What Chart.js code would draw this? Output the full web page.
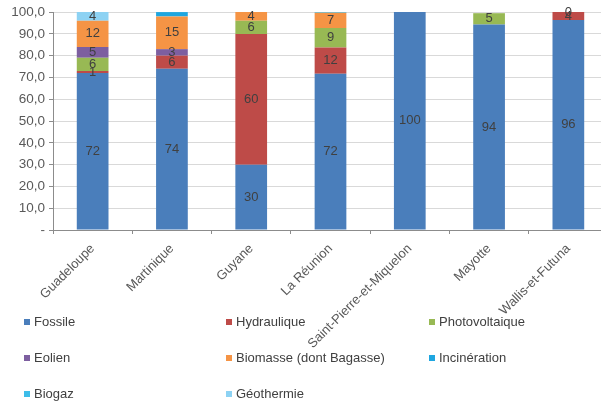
<!DOCTYPE html>
<html>
<head>
<meta charset="utf-8">
<script src="https://cdn.jsdelivr.net/npm/chart.js@4"></script>
<style>
  html, body { margin: 0; padding: 0; background: #fff; overflow: hidden; }
  canvas { display: block; }
</style>
</head>
<body>
<canvas id="chart" width="612" height="405"></canvas>
<script>
const territories = ["Guadeloupe", "Martinique", "Guyane", "La Réunion", "Saint-Pierre-et-Miquelon", "Mayotte", "Wallis-et-Futuna"];

// shares of electricity production (%), null = empty cell
const fossile = [72, 74, 30, 71.7, 100, 94.3, 96.4];
const hydraulique = [1, 6, 60, 12, null, null, 3.6];
const photovoltaique = [6, null, 6, 9, null, 5.2, 0];
const eolien = [5, 3, null, null, null, null, null];
const biomasse = [12, 15, 4, 7, null, null, null];
const incineration = [null, 2, null, null, null, null, null];
const biogaz = [null, null, null, 0.3, null, null, null];
const geothermie = [4, null, null, null, null, null, null];

const yTicks = ["-", "10,0", "20,0", "30,0", "40,0", "50,0", "60,0", "70,0", "80,0", "90,0", "100,0"];

const series = [
  { label: "Fossile", data: fossile, color: "#4a7ebb", showValues: true },
  { label: "Hydraulique", data: hydraulique, color: "#be4b48", showValues: true },
  { label: "Photovoltaique", data: photovoltaique, color: "#98b954", showValues: true },
  { label: "Eolien", data: eolien, color: "#7d5fa0", showValues: true },
  { label: "Biomasse (dont Bagasse)", data: biomasse, color: "#f59445", showValues: true },
  { label: "Incinération", data: incineration, color: "#1ea6e0", showValues: false },
  { label: "Biogaz", data: biogaz, color: "#3dbde9", showValues: false },
  { label: "Géothermie", data: geothermie, color: "#8dd2f3", showValues: true },
];

const FONT = "'Liberation Sans', Arial, sans-serif";

// value labels centred in each segment
const valueLabels = {
  id: "valueLabels",
  afterDatasetsDraw(chart) {
    const ctx = chart.ctx;
    ctx.save();
    ctx.font = "13px " + FONT;
    ctx.fillStyle = "#404040";
    ctx.textAlign = "center";
    ctx.textBaseline = "middle";
    chart.data.datasets.forEach((ds, i) => {
      if (!ds.showValues) return;
      chart.getDatasetMeta(i).data.forEach((bar, j) => {
        const v = ds.data[j];
        if (v === null || v === undefined) return;
        const p = bar.getProps(["x", "y", "base"], true);
        ctx.fillText(String(Math.round(v)), p.x, (p.y + p.base) / 2);
      });
    });
    ctx.restore();
  },
};

// legend in three columns below the chart
const gridLegend = {
  id: "gridLegend",
  afterDraw(chart) {
    const ctx = chart.ctx;
    const cols = [27, 229, 432];
    const rows = [322, 358, 394];
    ctx.save();
    ctx.font = "13px " + FONT;
    ctx.textBaseline = "middle";
    chart.data.datasets.forEach((ds, i) => {
      const x = cols[i % 3];
      const y = rows[Math.floor(i / 3)];
      ctx.fillStyle = ds.backgroundColor;
      ctx.fillRect(x - 3, y - 3, 6, 6);
      ctx.fillStyle = "#404040";
      ctx.textAlign = "left";
      ctx.fillText(ds.label, x + 7, y + 0.5);
    });
    ctx.restore();
  },
};

new Chart(document.getElementById("chart"), {
  type: "bar",
  data: {
    labels: territories,
    datasets: series.map((s) => ({
      label: s.label,
      data: s.data,
      backgroundColor: s.color,
      showValues: s.showValues,
      barPercentage: 0.4,
      categoryPercentage: 1,
    })),
  },
  options: {
    responsive: false,
    animation: false,
    layout: { padding: { top: 12, right: 4, left: 0, bottom: 0 } },
    plugins: {
      legend: { display: false },
      tooltip: { enabled: false },
    },
    scales: {
      x: {
        stacked: true,
        afterFit(scale) { scale.height = 175; },
        grid: {
          drawOnChartArea: false,
          drawTicks: true,
          tickLength: 4,
          tickColor: "#8c8c8c",
        },
        border: { color: "#8c8c8c" },
        ticks: {
          minRotation: 45,
          maxRotation: 45,
          autoSkip: false,
          padding: 7,
          color: "#595959",
          font: { family: FONT, size: 13 },
        },
      },
      y: {
        stacked: true,
        min: 0,
        max: 100,
        afterFit(scale) { scale.width = 53; },
        grid: {
          color: "#d9d9d9",
          tickLength: 4,
          tickColor: "#8c8c8c",
        },
        border: { color: "#8c8c8c" },
        ticks: {
          stepSize: 10,
          padding: 4,
          color: "#595959",
          font: { family: FONT, size: 13.5 },
          callback: (v, i) => yTicks[i],
        },
      },
    },
  },
  plugins: [valueLabels, gridLegend],
});
</script>
</body>
</html>
